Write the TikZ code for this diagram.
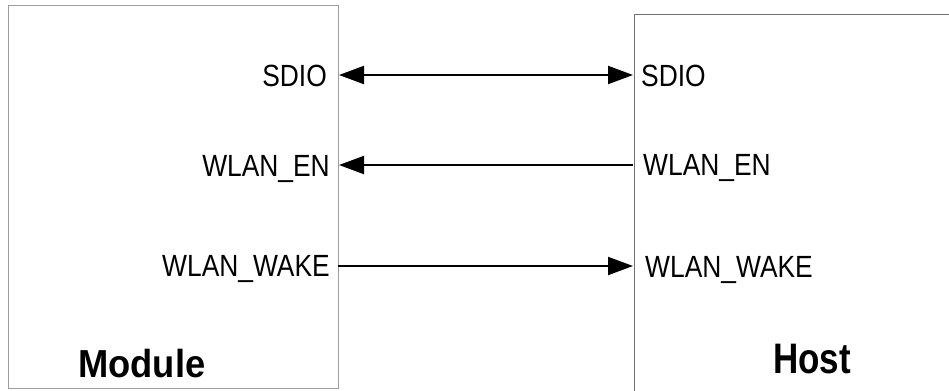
\documentclass[tikz,border=0pt]{standalone}
\usepackage{fontspec}
\setmainfont{Liberation Sans}
\usetikzlibrary{arrows.meta}
\begin{document}
\begin{tikzpicture}[x=0.75pt,y=-0.75pt,
  blockbox/.style={draw, line width=1.1pt, rectangle, inner sep=0pt, anchor=north west},
  sig/.style={font=\fontsize{23}{26}\selectfont, inner sep=0pt, xscale=0.86},
  title/.style={font=\bfseries, inner sep=0pt, anchor=base west},
  wire/.style={line width=1.5pt, -{Triangle[length=18.75pt,width=13.5pt]}},
  bwire/.style={line width=1.5pt, {Triangle[length=18.75pt,width=13.5pt]}-{Triangle[length=18.75pt,width=13.5pt]}}
]
\clip (0,0) rectangle (949,390);
\fill[white] (0,0) rectangle (949,390);
% boxes
\node (module) [blockbox, draw=black!38, minimum width=247.5pt, minimum height=287.6pt] at (8,4.5) {};
\node (host) [blockbox, draw=black!56, minimum width=300pt, minimum height=300pt] at (634,13.5) {};
% titles
\node (modt) [title, font=\fontsize{29.3}{32}\selectfont\bfseries, xscale=0.93] at (78,377) {Module};
\node (hostt) [title, font=\fontsize{32}{35}\selectfont\bfseries, xscale=0.82] at (773,373) {Host};
% signal labels
\node (lsdio) [sig, anchor=base east] at (327,86) {SDIO};
\node (len) [sig, anchor=base east] at (330,176) {WLAN\_EN};
\node (lwake) [sig, anchor=base east] at (330,276) {WLAN\_WAKE};
\node (rsdio) [sig, anchor=base west] at (641,86) {SDIO};
\node (ren) [sig, anchor=base west] at (643,175) {WLAN\_EN};
\node (rwake) [sig, anchor=base west] at (645,277) {WLAN\_WAKE};
% endpoints
\coordinate (m1) at (339,75);
\coordinate (h1) at (633,75);
\coordinate (m2) at (339,165);
\coordinate (h2) at (633,165);
\coordinate (m3) at (338,266);
\coordinate (h3) at (633,266);
% connectors
\draw[bwire] (m1) -- (h1);
\draw[wire] (h2) -- (m2);
\draw[wire] (m3) -- (h3);
\end{tikzpicture}
\end{document}
